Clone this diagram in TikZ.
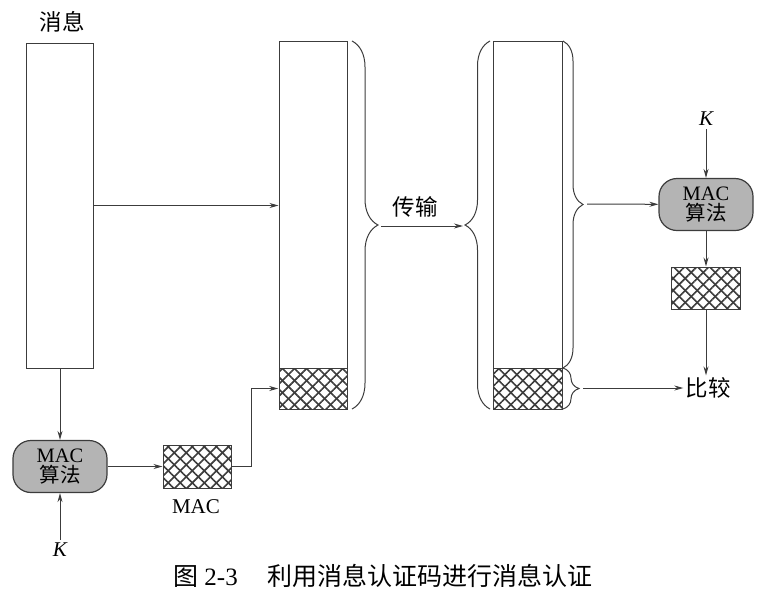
\documentclass[tikz,border=0pt]{standalone}
\usepackage{fontspec}
\setmainfont{Liberation Serif}
\newfontfamily\cjk{Noto Sans CJK SC}
\usetikzlibrary{arrows.meta,positioning,patterns.meta,decorations.pathreplacing}
\definecolor{inkgray}{HTML}{3C3C3C}
\definecolor{algfill}{HTML}{B4B4B4}

\begin{document}
\begin{tikzpicture}[x=1pt,y=-1pt,
  arr/.style={-{Stealth[length=9pt,width=5pt]}, inkgray, line width=1pt},
  block/.style={rectangle, draw=inkgray, line width=1pt, inner sep=0pt},
  tag/.style={block, pattern color=inkgray,
    pattern={Lines[angle=45,distance=8.5pt,line width=1.6pt]},
    postaction={pattern color=inkgray, pattern={Lines[angle=-45,distance=8.5pt,line width=1.6pt]}}},
  alg/.style={rectangle, rounded corners=18pt, draw=inkgray, line width=1.2pt,
    fill=algfill, minimum width=94pt, minimum height=52pt, align=center,
    font=\fontsize{20.5}{20.5}\selectfont, inner sep=0pt},
  lbl/.style={font=\fontsize{22.5}{24}\selectfont\cjk, inner sep=2pt},
  key/.style={font=\fontsize{21}{24}\selectfont\itshape, inner sep=3pt},
  brc/.style={decorate, decoration={brace, amplitude=#1}, inkgray, line width=1pt}
]
  \useasboundingbox (0,0) rectangle (765,603);

  \node[block, minimum width=67pt, minimum height=325pt] (msg) at (60,205.5) {};
  \node[lbl] (msglbl) at (62,22) {消息};
  \node[block, minimum width=68pt, minimum height=327pt] (sent) at (313,204.5) {};
  \node[tag, minimum width=68pt, minimum height=41pt] (senttag) at (313,388.5) {};
  \node[block, minimum width=69pt, minimum height=327pt] (recv) at (527.5,204.5) {};
  \node[tag, minimum width=69pt, minimum height=41pt] (recvtag) at (527.5,388.5) {};

  \node[alg] (alg1) at (60,466.5) {MAC\\{\cjk 算法}};
  \node[key] (k1) at (60,550) {K};
  \node[tag, minimum width=68pt, minimum height=43pt] (mac1) at (197,466.5) {};
  \node[font=\fontsize{21}{24}\selectfont, inner sep=0pt] (maclbl) at (196,507) {MAC};

  \node[alg] (alg2) at (706,204.5) {MAC\\{\cjk 算法}};
  \node[key] (k2) at (706,119) {K};
  \node[tag, minimum width=69pt, minimum height=42pt] (mac2) at (706,288) {};
  \node[lbl] (cmp) at (708,388) {比较};
  \node[lbl] (sendlbl) at (415,207) {传输};

  \draw[brc=26pt] (352,41) -- (352,409);
  \draw[brc=25pt] (490,409) -- (490,41);
  \draw[brc=20pt] (563,41) -- (563,368);
  \draw[brc=16pt] (563,368) -- (563,409);
  \coordinate (tx1) at (381,226);
  \coordinate (tx2) at (463,226);
  \coordinate (rx1) at (587,204);
  \coordinate (rx2) at (583,388);

  \draw[arr] (msg.east) -- (msg.east -| sent.west);
  \draw[arr] (msg.south) -- (alg1.north);
  \draw[arr] (k1) -- (alg1.south);
  \draw[arr] (alg1) -- (mac1);
  \draw[arr] (mac1.east) -- ++(20,0) |- (senttag.west);
  \draw[arr] (tx1) -- (tx2);
  \draw[arr] (rx1) -- (alg2);
  \draw[arr] (k2) -- (alg2);
  \draw[arr] (alg2) -- (mac2);
  \draw[arr] (mac2.south) -- (mac2.south |- cmp.north);
  \draw[arr] (rx2) -- (cmp);

  \node[font=\fontsize{25}{28}\selectfont] (cap) at (383,576)
    {{\cjk 图} 2-3\hspace{30pt}{\cjk 利用消息认证码进行消息认证}};
\end{tikzpicture}
\end{document}
